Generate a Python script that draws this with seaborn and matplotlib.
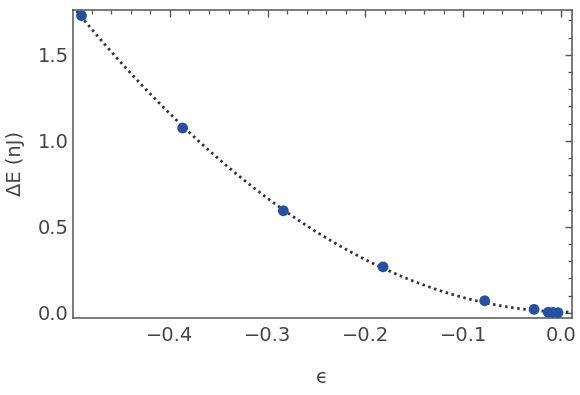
import matplotlib
matplotlib.use("Agg")
import matplotlib.pyplot as plt
import numpy as np
import pandas as pd
import seaborn as sns
from matplotlib.ticker import MultipleLocator, FuncFormatter

# strain and energy difference
eps = [-0.4905, -0.387, -0.284, -0.182, -0.078, -0.0275, -0.013, -0.008, -0.003]
delta_e = [1.727, 1.074, 0.593, 0.267, 0.070, 0.020, 0.003, 0.002, 0.001]

x_ticks = [-0.4, -0.3, -0.2, -0.1, 0.0]
y_ticks = [0.0, 0.5, 1.0, 1.5]

df = pd.DataFrame({"eps": eps, "dE": delta_e})

sns.set_style("white")
plt.rcParams["font.family"] = ["DejaVu Sans"]

text_col = "#444444"
axis_col = "#555555"

fig = plt.figure(figsize=(5.8, 3.95), dpi=100)
ax = fig.add_axes([0.1253, 0.195, 0.8604, 0.7797])
ax.set_xlim(-0.4995, 0.011)
ax.set_ylim(-0.03, 1.76)

# quadratic fit, drawn dotted across the whole x range
sns.regplot(data=df, x="eps", y="dE", order=2, ci=None, scatter=False,
            truncate=False, ax=ax,
            line_kws=dict(color="#333333", lw=2.0, ls=(0, (0.9, 1.3)),
                          dash_capstyle="butt"))
sns.scatterplot(data=df, x="eps", y="dE", ax=ax, color="#2451a6", s=60,
                edgecolor="none", zorder=3)

ax.set_xlim(-0.4995, 0.011)
ax.set_ylim(-0.03, 1.76)
ax.set_xticks(x_ticks)
ax.set_yticks(y_ticks)
ax.xaxis.set_minor_locator(MultipleLocator(0.02))
ax.yaxis.set_minor_locator(MultipleLocator(0.1))
ax.xaxis.set_major_formatter(FuncFormatter(lambda v, p: f"{v:.1f}".replace("-", "\u2212")))
ax.yaxis.set_major_formatter(FuncFormatter(lambda v, p: f"{v:.1f}"))

ax.tick_params(which="both", direction="in", top=True, right=True,
               colors=axis_col, labelcolor=text_col, labelsize=14)
ax.tick_params(which="major", length=5, width=1.0)
ax.tick_params(which="minor", length=3, width=0.9)
ax.tick_params(axis="x", which="major", pad=6)
ax.tick_params(axis="y", which="major", pad=3)

for sp in ax.spines.values():
    sp.set_color(axis_col)
    sp.set_linewidth(1.1)

ax.set_xlabel("\u03f5", fontsize=14, color=text_col, labelpad=16)
ax.set_ylabel("\u0394E (nJ)", fontsize=14, color=text_col, labelpad=9)

fig.savefig("out.png", dpi=100)
